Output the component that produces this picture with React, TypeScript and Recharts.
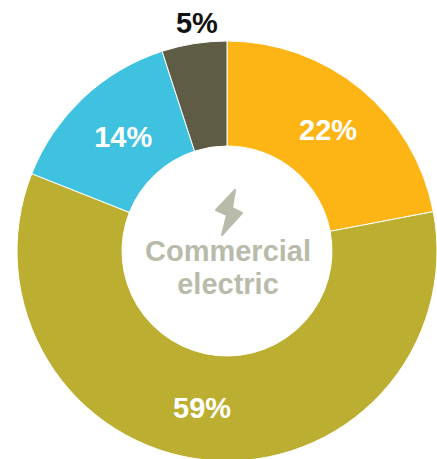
import { Pie, PieChart, Cell } from "recharts";

const categories = ["Segment A", "Segment B", "Segment C", "Segment D"];
const shares = [22, 59, 14, 5];
const sliceColors = ["#FDB515", "#BBAE31", "#3FC2DF", "#5F5C45"];
const labelColors = ["#ffffff", "#ffffff", "#ffffff", "#111111"];
const centerLines = ["Commercial", "electric"];

const rows = categories.map((name, i) => ({ name, value: shares[i] }));

const FONT = "'Liberation Sans', Arial, sans-serif";
const MUTED = "#B9BBAA";
const RAD = Math.PI / 180;

// radius and sideways shift for each percent label
const labelRadius = [157, 158, 156, 231];
const labelShift = [1, -10, 3, 6];

function SliceLabel(props: any) {
  const { cx, cy, midAngle, index } = props;
  const r = labelRadius[index];
  const x = cx + r * Math.cos(-midAngle * RAD) + labelShift[index];
  const y = cy + r * Math.sin(-midAngle * RAD);
  return (
    <text
      x={x}
      y={y}
      textAnchor="middle"
      dominantBaseline="central"
      fontFamily={FONT}
      fontWeight="bold"
      fontSize={29}
      fill={labelColors[index]}
    >
      {shares[index]}%
    </text>
  );
}

export default function App() {
  return (
    <div style={{ position: "absolute", left: 0, top: 0, width: 437, height: 459, overflow: "hidden" }}>
      <PieChart width={437} height={459} margin={{ top: 0, right: 0, bottom: 0, left: 0 }}>
        <Pie
          data={rows}
          dataKey="value"
          nameKey="name"
          cx={227}
          cy={251}
          innerRadius={105}
          outerRadius={210}
          startAngle={90}
          endAngle={-270}
          stroke="#ffffff"
          strokeWidth={1}
          label={SliceLabel}
          labelLine={false}
          isAnimationActive={false}
        >
          {rows.map((row, i) => (
            <Cell key={row.name} fill={sliceColors[i]} />
          ))}
        </Pie>
        <polygon
          points="235,190 216,210 227,215 222,235 242,213 232,208"
          fill={MUTED}
          stroke={MUTED}
          strokeWidth={2}
          strokeLinejoin="round"
        />
        <text x={228} y={251} textAnchor="middle" dominantBaseline="central" fontFamily={FONT} fontWeight="bold" fontSize={29} fill={MUTED}>
          {centerLines[0]}
        </text>
        <text x={228} y={284} textAnchor="middle" dominantBaseline="central" fontFamily={FONT} fontWeight="bold" fontSize={29} fill={MUTED}>
          {centerLines[1]}
        </text>
      </PieChart>
    </div>
  );
}
